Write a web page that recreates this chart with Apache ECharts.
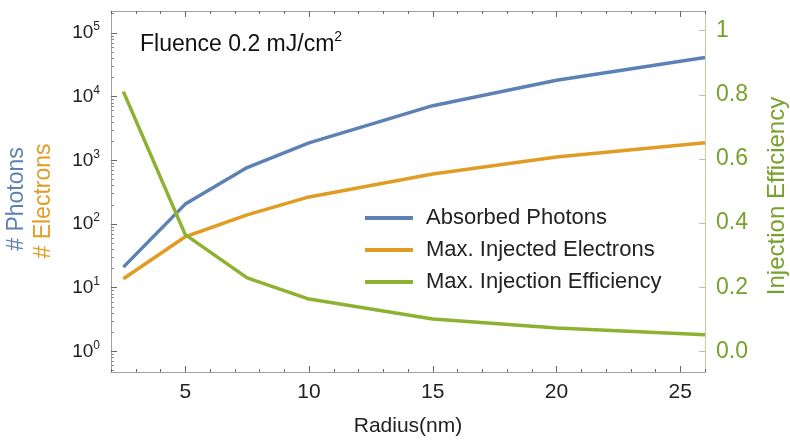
<!DOCTYPE html>
<html>
<head>
<meta charset="UTF-8">
<title>Fluence 0.2 mJ/cm2</title>
<script src="https://cdn.jsdelivr.net/npm/echarts@6/dist/echarts.min.js"></script>
</head>
<body style="margin:0">
<div id="chart" style="width:790px; height:442px;"></div>
<script>
    // values
    var radius = [2.5, 5, 7.5, 10, 15, 20, 26];           // nm
    var photons = [21, 205, 770, 1880, 7200, 18000, 41000];
    var electrons = [13.8, 63, 139, 266, 610, 1130, 1890];
    var efficiency = [0.81, 0.364, 0.229, 0.163, 0.101, 0.073, 0.052];

    var xTicks = [5, 10, 15, 20, 25];
    var decades = [0, 1, 2, 3, 4, 5];          // exponents of 10 on left axis
    var effTicks = [0, 0.2, 0.4, 0.6, 0.8, 1];

    var FONT = 'Liberation Sans, Arial, sans-serif';
    var BLUE = '#5e81b5', ORANGE = '#e19c24', GREEN = '#8fb131', GREEN_TXT = '#76a12b';
    var FRAME = '#a0a0a0';

    // minor tick positions (frame decoration)
    var xMinor = [];
    for (var i = 2; i <= 26; i++) if (i % 5 !== 0) xMinor.push(i);
    var yMinor = [];
    for (var n = -1; n <= 5; n++) {
        for (var k = 2; k <= 9; k++) {
            var lv = Math.log10(k) + n;
            if (lv > -0.3244 && lv < 5.344) yMinor.push(lv);
        }
    }

    // left axis is logarithmic: plot log10 of the counts
    function logPairs(arr) {
        return arr.map(function (v, i) { return [radius[i], Math.log10(v)]; });
    }

    function xAxisDef(pos, ticks, len, extra) {
        var a = {
            type: 'value', position: pos, min: 2, max: 26,
            axisLine: {show: true, onZero: false, lineStyle: {color: FRAME}},
            axisTick: {show: true, inside: true, length: len, customValues: ticks, lineStyle: {color: '#666'}},
            axisLabel: {show: false},
            splitLine: {show: false}
        };
        for (var key in extra) a[key] = extra[key];
        return a;
    }

    var chart = echarts.init(document.getElementById('chart'), null, {renderer: 'canvas'});

    var option = {
        animation: false,
        textStyle: {fontFamily: FONT},
        grid: {left: 111, right: 85, top: 11, bottom: 64},
        title: {
            text: 'Fluence 0.2 mJ/cm{s|2}',
            left: 135, top: 25,
            textStyle: {
                fontSize: 23, fontWeight: 'normal', color: '#111', fontFamily: FONT,
                rich: {s: {fontSize: 14, padding: [0, 0, 15, 0], color: '#111'}}
            }
        },
        legend: {
            orient: 'vertical',
            left: 365, top: 207, padding: 0,
            itemWidth: 48, itemHeight: 4, itemGap: 10,
            icon: 'rect',
            selectedMode: false,
            textStyle: {fontSize: 22, color: '#222', padding: [0, 0, 0, 8], fontFamily: FONT},
            data: ['Absorbed Photons', 'Max. Injected Electrons', 'Max. Injection Efficiency']
        },
        xAxis: [
            xAxisDef('bottom', xTicks, 6, {
                axisLabel: {show: true, customValues: xTicks, fontSize: 21, color: '#222', margin: 10, fontFamily: FONT},
                name: 'Radius(nm)', nameLocation: 'middle', nameGap: 44,
                nameTextStyle: {fontSize: 21, color: '#222', fontFamily: FONT}
            }),
            xAxisDef('bottom', xMinor, 3, {axisLine: {show: false, onZero: false}}),
            xAxisDef('top', xTicks, 6, {}),
            xAxisDef('top', xMinor, 3, {axisLine: {show: false, onZero: false}})
        ],
        yAxis: [
            {
                type: 'value', position: 'left', min: -0.3244, max: 5.344,
                axisLine: {show: true, onZero: false, lineStyle: {color: FRAME}},
                axisTick: {show: true, inside: true, length: 6, customValues: decades, lineStyle: {color: '#666'}},
                axisLabel: {
                    customValues: decades, margin: 11, color: '#222',
                    formatter: function (v) { return '{b|10}{s|' + Math.round(v) + '}'; },
                    rich: {
                        b: {fontSize: 19, color: '#222', fontFamily: FONT},
                        s: {fontSize: 12, color: '#222', padding: [0, 0, 12, 0], fontFamily: FONT}
                    }
                },
                splitLine: {show: false}
            },
            {
                type: 'value', position: 'left', min: -0.3244, max: 5.344,
                axisLine: {show: false, onZero: false},
                axisTick: {show: true, inside: true, length: 3, customValues: yMinor, lineStyle: {color: '#888'}},
                axisLabel: {show: false},
                splitLine: {show: false}
            },
            {
                type: 'value', position: 'right', min: -0.0644, max: 1.0613,
                axisLine: {show: true, onZero: false, lineStyle: {color: '#bcd398'}},
                axisTick: {show: true, inside: true, length: 6, customValues: effTicks, lineStyle: {color: '#bbb'}},
                axisLabel: {
                    customValues: effTicks, margin: 11, fontSize: 23, color: GREEN_TXT, fontFamily: FONT,
                    formatter: function (v) { return v === 1 ? '1' : v.toFixed(1); }
                },
                splitLine: {show: false}
            }
        ],
        graphic: [
            {type: 'text', x: 17, y: 199, rotation: Math.PI / 2,
             style: {text: '# Photons', fill: BLUE, fontSize: 23, fontFamily: FONT, textAlign: 'center', textVerticalAlign: 'middle'}},
            {type: 'text', x: 44, y: 201, rotation: Math.PI / 2,
             style: {text: '# Electrons', fill: ORANGE, fontSize: 23, fontFamily: FONT, textAlign: 'center', textVerticalAlign: 'middle'}},
            {type: 'text', x: 777, y: 196, rotation: Math.PI / 2,
             style: {text: 'Injection Efficiency', fill: GREEN_TXT, fontSize: 24, fontFamily: FONT, textAlign: 'center', textVerticalAlign: 'middle'}}
        ],
        series: [
            {
                name: 'Absorbed Photons', type: 'line', xAxisIndex: 0, yAxisIndex: 0,
                showSymbol: false, color: BLUE, lineStyle: {width: 3.5, color: BLUE},
                data: logPairs(photons)
            },
            {
                name: 'Max. Injected Electrons', type: 'line', xAxisIndex: 0, yAxisIndex: 0,
                showSymbol: false, color: ORANGE, lineStyle: {width: 3.5, color: ORANGE},
                data: logPairs(electrons)
            },
            {
                name: 'Max. Injection Efficiency', type: 'line', xAxisIndex: 0, yAxisIndex: 2,
                showSymbol: false, color: GREEN, lineStyle: {width: 3.5, color: GREEN},
                data: efficiency.map(function (v, i) { return [radius[i], v]; })
            }
        ]
    };
    chart.setOption(option);
</script>
</body>
</html>
